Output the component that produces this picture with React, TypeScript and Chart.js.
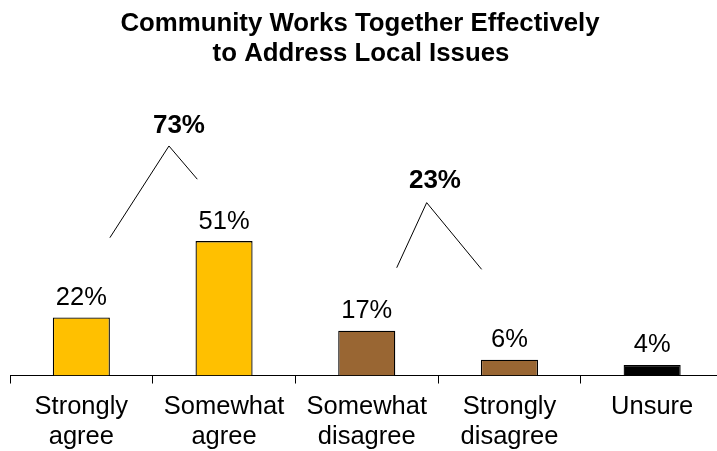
import React, { useEffect, useRef } from "react";
import { Chart, registerables } from "chart.js";

Chart.register(...registerables);

const titleLines = ["Community Works Together Effectively", "to Address Local Issues"];
const categories: (string | string[])[] = [
  ["Strongly", "agree"],
  ["Somewhat", "agree"],
  ["Somewhat", "disagree"],
  ["Strongly", "disagree"],
  "Unsure",
];
const values = [22, 51, 17, 6, 4];
const barColors = ["#FFC000", "#FFC000", "#996633", "#996633", "#000000"];
const groupTotals = ["73%", "23%"];

const FONT = 'Arial, "Liberation Sans", sans-serif';

// bracket geometry in (category index, percent) units
const brackets = [
  { pts: [[0.2, 52.3], [0.614, 87.1], [0.8125, 74.5]], label: [0.684, 91.9] },
  { pts: [[2.21, 40.9], [2.42, 65.6], [2.805, 40.3]], label: [2.478, 71.0] },
];

const overlayPlugin = {
  id: "overlay",
  afterDatasetsDraw(chart: any) {
    const ctx = chart.ctx;
    const xs = chart.scales.x;
    const ys = chart.scales.y;
    ctx.save();
    const meta = chart.getDatasetMeta(0);
    ctx.fillStyle = "#000";
    ctx.font = `25.5px ${FONT}`;
    ctx.textAlign = "center";
    ctx.textBaseline = "alphabetic";
    meta.data.forEach((bar: any, i: number) => {
      ctx.fillText(`${values[i]}%`, bar.x, bar.y - 12.5);
    });
    ctx.strokeStyle = "#000";
    ctx.lineWidth = 1;
    brackets.forEach((b, k) => {
      ctx.beginPath();
      b.pts.forEach((p, j) => {
        const px = xs.getPixelForValue(p[0]);
        const py = ys.getPixelForValue(p[1]);
        if (j === 0) ctx.moveTo(px, py);
        else ctx.lineTo(px, py);
      });
      ctx.stroke();
      ctx.font = `bold 26px ${FONT}`;
      ctx.fillText(groupTotals[k], xs.getPixelForValue(b.label[0]), ys.getPixelForValue(b.label[1]));
    });
    ctx.font = `bold 25.8px ${FONT}`;
    ctx.fillText(titleLines[0], 360, 31.2);
    ctx.fillText(titleLines[1], 361, 61.2);
    ctx.restore();
  },
};

export default function App() {
  const ref = useRef<HTMLCanvasElement>(null);
  useEffect(() => {
    if (!ref.current) return;
    const chart = new Chart(ref.current, {
      type: "bar",
      data: {
        labels: categories,
        datasets: [
          {
            data: values,
            backgroundColor: barColors,
            borderColor: "#000",
            borderWidth: 1.3,
            barPercentage: 0.4,
            categoryPercentage: 1,
          },
        ],
      },
      options: {
        responsive: false,
        animation: false,
        layout: { padding: { top: 112, left: 10, right: 16.5, bottom: 0 } },
        plugins: { legend: { display: false }, tooltip: { enabled: false }, title: { display: false } },
        scales: {
          x: {
            offset: true,
            grid: { display: true, offset: true, drawOnChartArea: false, drawTicks: true, tickLength: 8, color: "#000", lineWidth: 1 },
            border: { display: true, color: "#000", width: 1 },
            ticks: { color: "#000", padding: 8.65, maxRotation: 0, autoSkip: false, font: { family: FONT, size: 25.5, lineHeight: 1.18 } },
          },
          y: { display: false, min: 0, max: 100 },
        },
      },
      plugins: [overlayPlugin],
    });
    return () => chart.destroy();
  }, []);
  return (
    <div style={{ position: "fixed", left: 0, top: 0, width: 717, height: 451, overflow: "hidden", background: "#fff" }}>
      <canvas ref={ref} width={740} height={461} style={{ display: "block", width: 740, height: 461 }} />
    </div>
  );
}
